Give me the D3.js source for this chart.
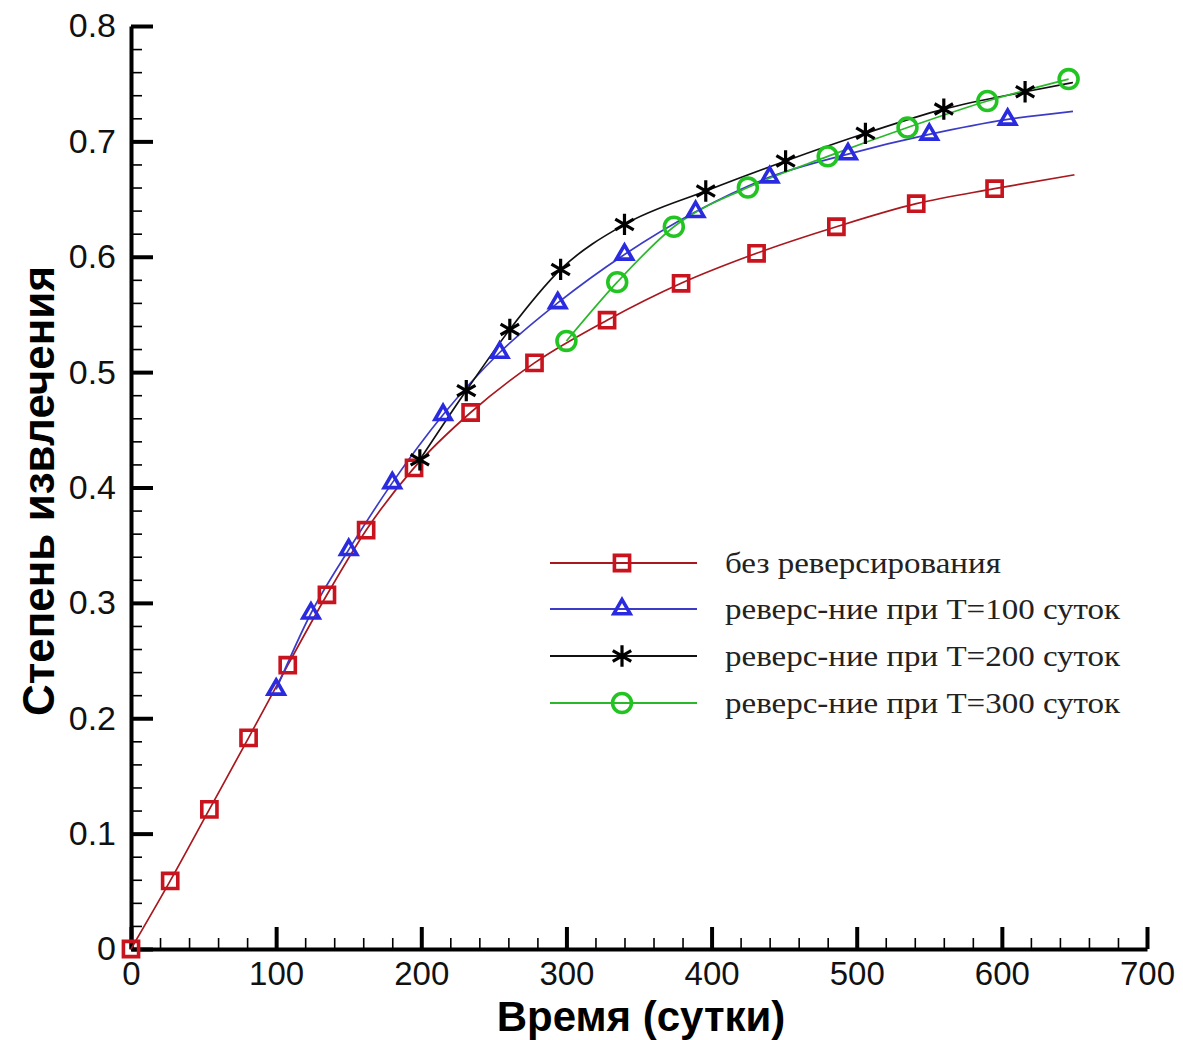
<!DOCTYPE html>
<html>
<head>
<meta charset="utf-8">
<script src="https://cdn.jsdelivr.net/npm/d3@7"></script>
<style>
  body { margin: 0; background: #fff; }
  svg { display: block; }
</style>
</head>
<body>
<script>
// без реверсирования
const redX = [0, 27, 54, 81, 108, 135, 162, 195, 234, 278, 328, 379, 431, 486, 541, 595, 650];
const redY = [0, 0.059, 0.121, 0.183, 0.246, 0.307, 0.363, 0.417, 0.465, 0.508, 0.545, 0.577, 0.603, 0.626, 0.646, 0.659, 0.671];
// реверс-ние при T=100
const blueX = [100, 124, 150, 180, 215, 254, 294, 340, 389, 440, 494, 550, 604, 649];
const blueY = [0.225, 0.291, 0.346, 0.404, 0.463, 0.517, 0.560, 0.602, 0.639, 0.669, 0.689, 0.706, 0.719, 0.726];
// реверс-ние при T=200
const blackX = [199, 231, 261, 296, 340, 396, 451, 506, 560, 616, 649];
const blackY = [0.424, 0.484, 0.537, 0.589, 0.628, 0.657, 0.683, 0.707, 0.728, 0.743, 0.751];
// реверс-ние при T=300
const greenX = [300, 335, 374, 425, 480, 535, 590, 646];
const greenY = [0.527, 0.578, 0.626, 0.660, 0.687, 0.712, 0.735, 0.754];

const xMajor = [0, 100, 200, 300, 400, 500, 600, 700];
const yMajor = [0, 0.1, 0.2, 0.3, 0.4, 0.5, 0.6, 0.7, 0.8];

const legendLabels = [
  'без реверсирования',
  'реверс-ние при T=100 суток',
  'реверс-ние при T=200 суток',
  'реверс-ние при T=300 суток'
];

window.addEventListener('load', function() {
  const W = 1183, H = 1040;
  const svg = d3.select('body').append('svg').attr('width', W).attr('height', H);

  const x = d3.scaleLinear().domain([0, 700]).range([131, 1147]);
  const y = d3.scaleLinear().domain([0, 0.8]).range([949, 26]);

  const xMinor = d3.range(0, 701, 20).filter(v => v % 100 !== 0);
  const yMinor = d3.range(0, 41).map(i => i * 0.02).filter((v, i) => i % 5 !== 0);

  // axes, ticks pointing inward
  const gx = svg.append('g').attr('transform', 'translate(0,' + y(0) + ')');
  gx.call(d3.axisBottom(x).tickValues(xMinor).tickSizeInner(-11).tickSizeOuter(0).tickFormat(''))
    .call(g => g.select('.domain').remove())
    .call(g => g.selectAll('line').attr('stroke-width', 1.6));
  gx.append('g')
    .call(d3.axisBottom(x).tickValues(xMajor).tickSizeInner(-22).tickSizeOuter(0).tickPadding(13)
      .tickFormat(d3.format('d')))
    .call(g => g.select('.domain').attr('stroke-width', 4))
    .call(g => g.selectAll('line').attr('stroke-width', 4))
    .call(g => g.selectAll('text').attr('font-family', 'Liberation Sans, Arial, sans-serif')
      .attr('font-size', 33).attr('fill', '#111'));

  const gy = svg.append('g').attr('transform', 'translate(' + x(0) + ',0)');
  gy.call(d3.axisLeft(y).tickValues(yMinor).tickSizeInner(-11).tickSizeOuter(0).tickFormat(''))
    .call(g => g.select('.domain').remove())
    .call(g => g.selectAll('line').attr('stroke-width', 1.6));
  gy.append('g')
    .call(d3.axisLeft(y).tickValues(yMajor).tickSizeInner(-22).tickSizeOuter(0).tickPadding(15)
      .tickFormat(d => d === 0 ? '0' : d.toFixed(1)))
    .call(g => g.select('.domain').attr('stroke-width', 4))
    .call(g => g.selectAll('line').attr('stroke-width', 4))
    .call(g => g.selectAll('text').attr('font-family', 'Liberation Sans, Arial, sans-serif')
      .attr('font-size', 34).attr('fill', '#111'));

  // titles
  svg.append('text')
    .attr('x', 641).attr('y', 1031)
    .attr('text-anchor', 'middle')
    .attr('font-family', 'Liberation Sans, Arial, sans-serif')
    .attr('font-weight', 'bold').attr('font-size', 42)
    .text('Время (сутки)');
  svg.append('text')
    .attr('transform', 'translate(54,491) rotate(-90)')
    .attr('text-anchor', 'middle')
    .attr('font-family', 'Liberation Sans, Arial, sans-serif')
    .attr('font-weight', 'bold').attr('font-size', 44)
    .text('Степень извлечения');

  const series = [
    { xs: redX, ys: redY, color: '#a8181e', mark: '#c8141e', symbol: d3.symbolSquare, size: 230, markers: redX.length - 1 },
    { xs: blueX, ys: blueY, color: '#3b3bc8', mark: '#2a2ae0', symbol: d3.symbolTriangle, size: 115, markers: blueX.length - 1 },
    { xs: blackX, ys: blackY, color: '#111', mark: '#000', symbol: d3.symbolAsterisk, size: 320, markers: blackX.length - 1 },
    { xs: greenX, ys: greenY, color: '#2ab82a', mark: '#22c422', symbol: d3.symbolCircle, size: 280, markers: greenX.length }
  ];

  const line = d3.line().curve(d3.curveMonotoneX).x(d => x(d[0])).y(d => y(d[1]));

  series.forEach(function(s) {
    const pts = s.xs.map((v, i) => [v, s.ys[i]]);
    svg.append('path')
      .attr('d', line(pts))
      .attr('fill', 'none')
      .attr('stroke', s.color)
      .attr('stroke-width', 1.7);
  });

  const sym = d3.symbol();
  series.forEach(function(s) {
    const pts = s.xs.map((v, i) => [v, s.ys[i]]).slice(0, s.markers);
    svg.append('g').selectAll('path')
      .data(pts)
      .join('path')
      .attr('transform', d => 'translate(' + x(d[0]) + ',' + y(d[1]) + ')')
      .attr('d', sym.type(s.symbol).size(s.size)())
      .attr('fill', 'none')
      .attr('stroke', s.mark)
      .attr('stroke-width', s.symbol === d3.symbolAsterisk ? 3.2 : 3.6);
  });

  // legend
  const legend = svg.append('g');
  const rowY = [563, 609, 656, 703];
  series.forEach(function(s, i) {
    const g = legend.append('g').attr('transform', 'translate(0,' + rowY[i] + ')');
    g.append('line').attr('x1', 550).attr('x2', 697).attr('y1', 0).attr('y2', 0)
      .attr('stroke', s.color).attr('stroke-width', 2);
    g.append('path').attr('transform', 'translate(622,0)')
      .attr('d', d3.symbol().type(s.symbol).size(s.size)())
      .attr('fill', 'none').attr('stroke', s.mark)
      .attr('stroke-width', s.symbol === d3.symbolAsterisk ? 3.2 : 3.6);
    // the original font is drawn a little wider than Times
    g.append('text').attr('transform', 'translate(725,10) scale(1.1,1)')
      .attr('font-family', 'Liberation Serif, Times New Roman, serif')
      .attr('font-size', 30).attr('fill', '#222')
      .text(legendLabels[i]);
  });
});
</script>
</body>
</html>
